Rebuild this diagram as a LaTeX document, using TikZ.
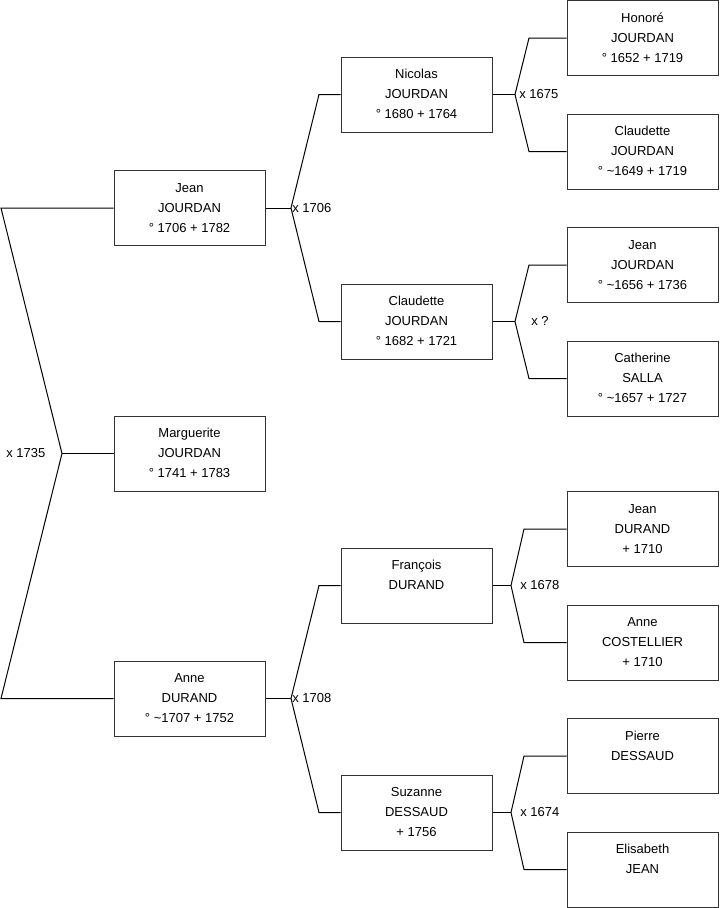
\documentclass[tikz,border=0pt]{standalone}
\usepackage{fontspec}
\setmainfont{Liberation Sans}
\usepackage{tikz}

% one person: three lines, struts keep all boxes aligned alike
\newcommand{\who}[3]{\strut #1\\#2\\#3\strut}

\begin{document}
\begin{tikzpicture}[x=0.75pt,y=-0.75pt,
  person/.style={draw=black!80,line width=0.75pt,minimum width=113.25pt,minimum height=56.25pt,align=center,inner sep=0pt,font=\fontsize{9.75}{15}\selectfont},
  union/.style={anchor=west,inner sep=0pt,font=\fontsize{9.75}{12}\selectfont},
  link/.style={line width=0.75pt}]
\useasboundingbox (0,0) rectangle (719,908);

% generation 1
\node[person] (jean) at (189.5,208) {\who{Jean}{JOURDAN}{° 1706 + 1782}};
\node[person] (marguerite) at (189.5,453.5) {\who{Marguerite}{JOURDAN}{° 1741 + 1783}};
\node[person] (anne) at (189.5,698.5) {\who{Anne}{DURAND}{° \textasciitilde1707 + 1752}};

% generation 2
\node[person] (nicolas) at (416.5,94.5) {\who{Nicolas}{JOURDAN}{° 1680 + 1764}};
\node[person] (claudette) at (416.5,321.5) {\who{Claudette}{JOURDAN}{° 1682 + 1721}};
\node[person] (francois) at (416.5,585.5) {\who{François}{DURAND}{}};
\node[person] (suzanne) at (416.5,812.5) {\who{Suzanne}{DESSAUD}{+ 1756}};

% generation 3
\node[person] (honore) at (642.5,38) {\who{Honoré}{JOURDAN}{° 1652 + 1719}};
\node[person] (claudetteJ) at (642.5,151.5) {\who{Claudette}{JOURDAN}{° \textasciitilde1649 + 1719}};
\node[person] (jeanJ) at (642.5,265) {\who{Jean}{JOURDAN}{° \textasciitilde1656 + 1736}};
\node[person] (catherine) at (642.5,378.5) {\who{Catherine}{SALLA}{° \textasciitilde1657 + 1727}};
\node[person] (jeanD) at (642.5,529) {\who{Jean}{DURAND}{+ 1710}};
\node[person] (anneC) at (642.5,642.5) {\who{Anne}{COSTELLIER}{+ 1710}};
\node[person] (pierre) at (642.5,756) {\who{Pierre}{DESSAUD}{}};
\node[person] (elisabeth) at (642.5,869.5) {\who{Elisabeth}{JEAN}{}};

% marriages
\coordinate (tjean) at (1,208);
\coordinate (xmarg) at (62,453.5);
\coordinate (tanne) at (1,698.5);
\draw[link] (jean.west) -- (tjean) -- (xmarg) -- (tanne) -- (anne.west);
\draw[link] (xmarg) -- (marguerite.west);
\node[union] (m1735) at (6,453.5) {x 1735};

\coordinate (xjean) at (291,208);
\coordinate (bnicolas) at (319,94.5);
\coordinate (bclaudette) at (319,321.5);
\draw[link] (jean.east) -- (xjean);
\draw[link] (nicolas.west) -- (bnicolas) -- (xjean) -- (bclaudette) -- (claudette.west);
\node[union] (m1706) at (292,208) {x 1706};

\coordinate (xanne) at (291,698.5);
\coordinate (bfrancois) at (319,585.5);
\coordinate (bsuzanne) at (319,812.5);
\draw[link] (anne.east) -- (xanne);
\draw[link] (francois.west) -- (bfrancois) -- (xanne) -- (bsuzanne) -- (suzanne.west);
\node[union] (m1708) at (292,698.5) {x 1708};

\coordinate (xnicolas) at (515,94.5);
\coordinate (bhonore) at (529,38);
\coordinate (bclaudetteJ) at (529,151.5);
\draw[link] (nicolas.east) -- (xnicolas);
\draw[link] (honore.west) -- (bhonore) -- (xnicolas) -- (bclaudetteJ) -- (claudetteJ.west);
\node[union] (m1675) at (519,94.5) {x 1675};

\coordinate (xclaudette) at (515,321.5);
\coordinate (bjeanJ) at (529,265);
\coordinate (bcatherine) at (529,378.5);
\draw[link] (claudette.east) -- (xclaudette);
\draw[link] (jeanJ.west) -- (bjeanJ) -- (xclaudette) -- (bcatherine) -- (catherine.west);
\node[union] (mnone) at (531,321) {x ?};

\coordinate (xfrancois) at (511,585.5);
\coordinate (bjeanD) at (524,529);
\coordinate (banneC) at (524,642.5);
\draw[link] (francois.east) -- (xfrancois);
\draw[link] (jeanD.west) -- (bjeanD) -- (xfrancois) -- (banneC) -- (anneC.west);
\node[union] (m1678) at (520,585.5) {x 1678};

\coordinate (xsuzanne) at (511,812.5);
\coordinate (bpierre) at (524,756);
\coordinate (belisabeth) at (524,869.5);
\draw[link] (suzanne.east) -- (xsuzanne);
\draw[link] (pierre.west) -- (bpierre) -- (xsuzanne) -- (belisabeth) -- (elisabeth.west);
\node[union] (m1674) at (520,812.5) {x 1674};
\end{tikzpicture}
\end{document}
